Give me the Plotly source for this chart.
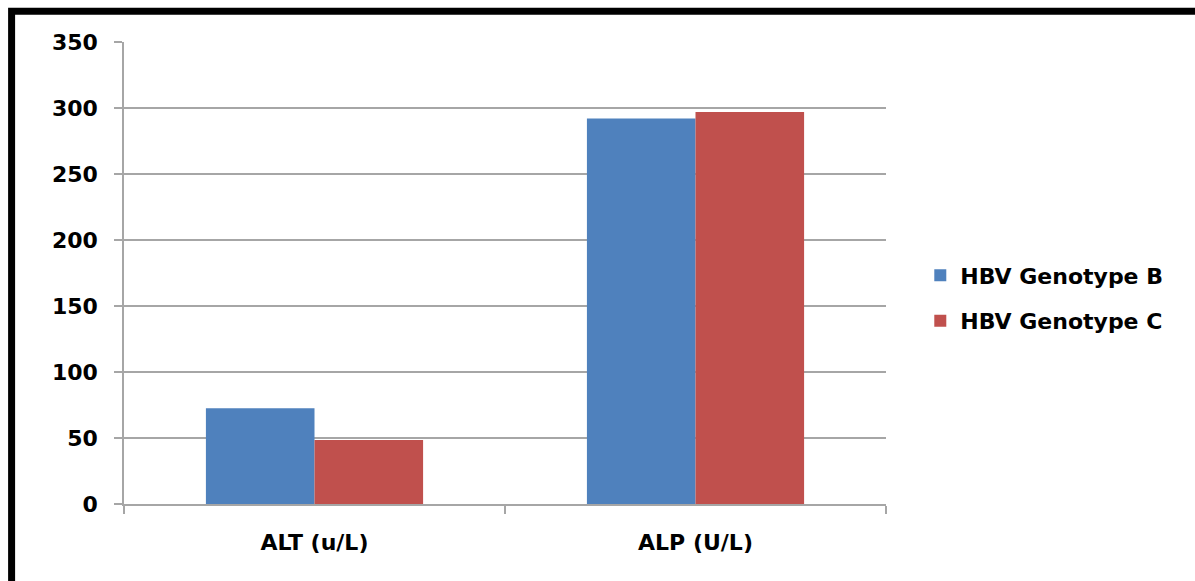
import plotly.graph_objects as go

categories = ["ALT (u/L)", "ALP (U/L)"]
genotype_b = [72.5, 292]
genotype_c = [48.5, 297]
series_names = ["HBV Genotype B", "HBV Genotype C"]
y_ticks = [0, 50, 100, 150, 200, 250, 300, 350]

FONT = "DejaVu Sans"
GRID = "#a6a6a6"

fig = go.Figure()
fig.add_trace(go.Bar(x=categories, y=genotype_b, name=series_names[0],
                     marker=dict(color="#4F81BD", line=dict(width=0)),
                     legendgroup="b"))
fig.add_trace(go.Bar(x=categories, y=genotype_c, name=series_names[1],
                     marker=dict(color="#C0504D", line=dict(width=0)),
                     legendgroup="c"))

# frame around the whole chart (runs off the right and bottom edges)
fig.add_shape(type="rect", xref="paper", yref="paper",
              x0=-0.1475, x1=1.6, y0=-0.6, y1=1.0665,
              line=dict(color="black", width=7), fillcolor="rgba(0,0,0,0)",
              layer="above")

bold = dict(family=FONT, size=22, color="black", weight="bold")

fig.update_layout(
    width=1195, height=581,
    margin=dict(l=124, r=309, t=42, b=77, pad=0),
    paper_bgcolor="white", plot_bgcolor="white",
    barmode="group", bargap=0.43, bargroupgap=0,
    font=bold,
    showlegend=True,
    legend=dict(x=1.045, y=0.445, xanchor="left", yanchor="middle",
                font=dict(family=FONT, size=22, color="black", weight="bold"),
                traceorder="grouped", tracegroupgap=14,
                bgcolor="rgba(0,0,0,0)"),
    xaxis=dict(showgrid=False, showline=True, linecolor=GRID, linewidth=1.5,
               ticks="outside", tickson="boundaries", ticklen=8,
               tickcolor=GRID, tickwidth=1.5,
               tickfont=bold,
               ticklabelstandoff=18),
    yaxis=dict(range=[0, 350], tickmode="array", tickvals=y_ticks,
               showgrid=True, gridcolor=GRID, gridwidth=1.5,
               showline=True, linecolor=GRID, linewidth=1.5,
               ticks="outside", ticklen=8, tickcolor=GRID, tickwidth=1.5,
               zeroline=False,
               tickfont=bold,
               ticklabelstandoff=12),
)

fig.write_html("out.html")
